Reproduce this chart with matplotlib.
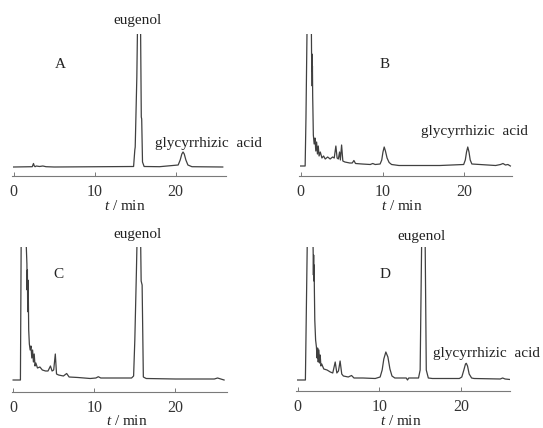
import matplotlib
matplotlib.use("Agg")
import matplotlib.pyplot as plt

plt.rcParams["font.family"] = "Liberation Serif"
plt.rcParams["mathtext.fontset"] = "custom"
plt.rcParams["mathtext.rm"] = "Liberation Serif"
plt.rcParams["mathtext.it"] = "Liberation Serif:italic"

W, H = 543, 428

# ---- chromatogram traces (t in min, signal in a.u.) ----
t_a = [0, 2.3, 2.45, 2.55, 2.65, 2.8, 3.2, 3.6, 4.0, 5.0, 14.8, 14.95, 15.0, 15.2,
       15.3, 15.65, 15.75, 15.8, 15.9, 16.1, 18.0, 20.3, 20.55, 20.75, 20.9,
       21.05, 21.25, 21.5, 22.0, 25.8]
s_a = [0, 0.3, 3.5, 1.0, 0.3, 1.0, 0.5, 1.0, 0.3, 0, 0.5, 17, 20, 90,
       150, 150, 50, 48, 5, 0.5, 0.3, 2, 7, 13, 15,
       13, 7, 2, 0.3, 0]

t_b = [0, 0.55, 0.65, 0.8, 1.0, 1.2, 1.3, 1.33, 1.36, 1.38, 1.41, 1.44, 1.47, 1.5,
       1.55, 1.65, 1.75, 1.85, 1.95, 2.05, 2.15, 2.25, 2.4, 2.6, 2.8, 3.0, 3.3,
       3.6, 3.9, 4.1, 4.3, 4.45, 4.6, 4.75, 4.85, 5.0, 5.15, 5.4, 6.0, 6.3, 6.5,
       6.7, 7.5, 8.5, 8.8, 9.1, 9.7, 9.9, 10.05, 10.2, 10.35, 10.55, 10.8, 11.1,
       12.0, 17.0, 19.9, 20.1, 20.25, 20.4, 20.55, 20.7, 20.9, 23.8, 24.4, 24.7,
       25.0, 25.3, 25.6]
s_b = [0, 0, 48, 150, 140, 150, 150, 115, 95, 112, 80, 100, 70, 56,
       31, 22, 28, 15, 24, 12, 20, 10, 14, 8, 10, 7, 9,
       7, 9, 8, 20, 8, 7, 14, 6, 21, 5, 4, 3, 3, 5.5,
       2.5, 2, 1.5, 2.5, 1.5, 2, 6, 14, 19, 15, 8, 3.5, 1.5,
       0.5, 0.5, 1.5, 6, 14, 19, 14, 6, 2, 0.5, 1.5, 2.5,
       1, 1.5, 0]

t_c = [0, 0.9, 1.0, 1.55, 1.7, 1.73, 1.76, 1.79, 1.82, 1.85, 1.88, 1.92, 2.0, 2.1,
       2.2, 2.3, 2.4, 2.5, 2.6, 2.7, 2.8, 3.0, 3.3, 3.6, 4.0, 4.3, 4.6, 4.8, 5.0,
       5.2, 5.35, 5.6, 6.2, 6.6, 6.9, 8.0, 9.5, 10.2, 10.5, 10.8, 12.0, 14.6,
       14.85, 15.0, 15.2, 15.3, 15.7, 15.78, 15.9, 16.05, 16.4, 20.0, 24.8, 25.2,
       25.6, 26.0]
s_c = [0, 0, 150, 150, 116, 90, 110, 75, 100, 68, 80, 50, 36, 30,
       34, 22, 30, 18, 26, 14, 17, 12, 13, 10, 9, 9, 14, 9, 10,
       26, 6, 5, 4, 6.5, 3, 2.5, 1.5, 2, 3.3, 2, 2, 2,
       4, 40, 110, 150, 150, 99, 95, 3, 1.5, 1, 1, 2,
       1, 0]

t_d = [0, 0.95, 1.2, 1.5, 1.85, 1.9, 1.93, 1.96, 1.99, 2.02, 2.05, 2.1, 2.2, 2.3,
       2.38, 2.45, 2.52, 2.6, 2.68, 2.76, 2.85, 2.95, 3.2, 3.6, 4.0, 4.3, 4.6,
       4.8, 5.0, 5.2, 5.4, 5.6, 6.2, 6.6, 6.9, 8.0, 9.5, 10.1, 10.35, 10.55, 10.8,
       11.05, 11.3, 11.55, 11.9, 13.3, 13.45, 13.6, 14.8, 15.0, 15.2, 15.6, 15.75,
       16.0, 16.5, 19.8, 20.1, 20.35, 20.55, 20.65, 20.8, 21.0, 21.3, 21.6, 24.8,
       25.1, 25.4, 26.0]
s_d = [0, 0, 150, 150, 150, 129, 105, 125, 99, 115, 90, 60, 40, 33,
       22, 32, 18, 30, 17, 25, 14, 16, 11, 10, 8, 7, 18,
       7, 9, 19, 6, 4, 3, 4.5, 2, 2, 1.5, 3, 10, 21, 28,
       23, 11, 4, 2, 2, 0, 2, 2, 10, 150, 150, 10,
       2, 1.5, 1.5, 3, 10, 16, 16.7, 14, 6, 2, 1.5, 1,
       2, 1, 0.5]

ticks = [0, 10, 20]

INK = "#404040"
AXC = "#7a7a7a"

fig = plt.figure(figsize=(W / 100, H / 100), dpi=100)


def px(x, y):
    return x / W, 1 - y / H


def panel(left, right, spine_y, top_y, xlim, ylim, t, s):
    x0, y0 = px(left, spine_y)
    x1, y1 = px(right, top_y)
    ax = fig.add_axes([x0, y0, x1 - x0, y1 - y0])
    ax.plot(t, s, color=INK, lw=0.9)
    ax.set_xlim(*xlim)
    ax.set_ylim(*ylim)
    for k in ("top", "left", "right"):
        ax.spines[k].set_visible(False)
    ax.spines["bottom"].set_color(AXC)
    ax.spines["bottom"].set_linewidth(0.8)
    ax.set_yticks([])
    ax.set_xticks(ticks)
    ax.tick_params(axis="x", direction="in", length=3, width=0.7, color=AXC,
                   labelsize=11.5, labelcolor="#333333", pad=6)
    ax.patch.set_visible(False)
    return ax


panel(12, 226, 176, 34, (-0.2, 26.2), (-9, 133), t_a, s_a)
panel(299, 512, 176, 34, (-0.2, 25.8), (-10, 132), t_b, s_b)
panel(11.5, 226.5, 392, 247, (-0.2, 26.3), (-12, 133), t_c, s_c)
panel(296, 510, 391, 247, (-0.2, 26.0), (-11, 133), t_d, s_d)


def label(x, y, txt, **kw):
    fig.text(*px(x, y), txt, ha="center", va="baseline", fontsize=11,
             color="#222222", **kw)


label(60, 68, "A")
label(385, 68, "B")
label(58, 278, "C")
label(385, 278, "D")
label(138, 24, "eugenol")
label(138, 238, "eugenol")
label(422, 240, "eugenol")
label(208, 147, "glycyrrhizic  acid")
label(474, 135, "glycyrrhizic  acid")
label(486, 357, "glycyrrhizic  acid")

for x, y in [(125, 210), (402, 210), (127, 425), (401, 425)]:
    label(x, y, "$t$ / min")

fig.savefig("out.png", dpi=100)
